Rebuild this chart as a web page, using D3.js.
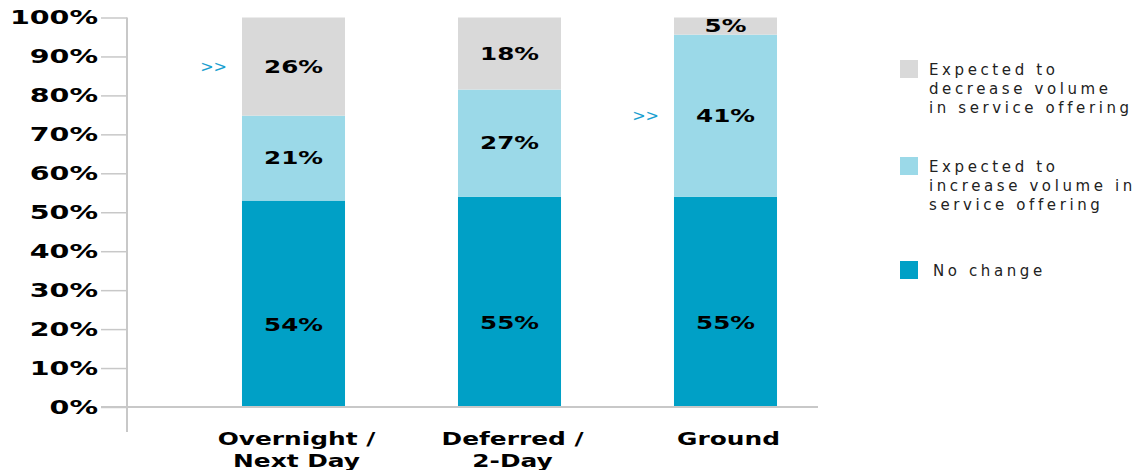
<!DOCTYPE html>
<html>
<head>
<meta charset="utf-8">
<script src="https://cdn.jsdelivr.net/npm/d3@7"></script>
<style>
  html, body { margin: 0; padding: 0; background: #fff; }
  svg { display: block; }
</style>
</head>
<body>
<svg id="chart" width="1145" height="470"></svg>
<script>
// ---- data ----
const categories = [["Overnight /", "Next Day"], ["Deferred /", "2-Day"], ["Ground"]];
const noChange = [53, 54, 54];
const increase = [21.8, 27.5, 41.6];
const decrease = [25.2, 18.5, 4.4];
const noChangeLabels = ["54%", "55%", "55%"];
const increaseLabels = ["21%", "27%", "41%"];
const decreaseLabels = ["26%", "18%", "5%"];
const highlightPairs = [[0, "decrease"], [2, "increase"]];
const yTicks = [0, 10, 20, 30, 40, 50, 60, 70, 80, 90, 100];
const legendItems = [
  { key: "decrease", lines: ["Expected to", "decrease volume", "in service offering"] },
  { key: "increase", lines: ["Expected to", "increase volume in", "service offering"] },
  { key: "noChange", lines: ["No change"] }
];

const colors = { noChange: "#00a0c6", increase: "#9bd9e8", decrease: "#d9d9d9" };
const keys = ["noChange", "increase", "decrease"];
const labelsByKey = { noChange: noChangeLabels, increase: increaseLabels, decrease: decreaseLabels };

const rows = categories.map((c, i) => ({
  idx: i, noChange: noChange[i], increase: increase[i], decrease: decrease[i]
}));

const svg = d3.select("#chart");
const boldFont = "'DejaVu Sans', sans-serif";

const x = d3.scaleBand()
  .domain(d3.range(categories.length))
  .range([185.5, 833.5])
  .paddingInner(0.523)
  .paddingOuter(0.2615);
const y = d3.scaleLinear().domain([0, 100]).range([407, 17.5]);

// axis
const axisX = 127;
const axis = d3.axisLeft(y).tickValues(yTicks).tickSize(26).tickFormat(d => d + "%");
const gAxis = svg.append("g").attr("transform", `translate(${axisX},0)`).call(axis);
gAxis.select(".domain").remove();
gAxis.selectAll(".tick line").attr("stroke", "#c8c8c8").attr("stroke-width", 1.5);
gAxis.selectAll(".tick text")
  .attr("x", 0)
  .attr("transform", "translate(-29,0) scale(1.5,1)")
  .attr("fill", "#000")
  .style("font-family", boldFont)
  .style("font-weight", "bold")
  .style("font-size", "19px");

svg.append("line")
  .attr("x1", axisX).attr("x2", axisX)
  .attr("y1", y(100)).attr("y2", 432)
  .attr("stroke", "#c8c8c8").attr("stroke-width", 2);

// stacked bars
const stack = d3.stack().keys(keys)(rows);
const layers = svg.append("g").selectAll("g").data(stack).join("g")
  .attr("fill", d => colors[d.key]);
layers.selectAll("rect").data(d => d).join("rect")
  .attr("x", (d, i) => x(i))
  .attr("width", x.bandwidth())
  .attr("y", d => y(d[1]))
  .attr("height", d => y(d[0]) - y(d[1]));

// baseline
svg.append("line")
  .attr("x1", 101).attr("x2", 818)
  .attr("y1", y(0)).attr("y2", y(0))
  .attr("stroke", "#c8c8c8").attr("stroke-width", 2);

// value labels
stack.forEach(layer => {
  layer.forEach((d, i) => {
    const mid = layer.key === "noChange" ? d[0] + (d[1] - d[0]) * 0.4 : (d[0] + d[1]) / 2;
    svg.append("text")
      .attr("transform", `translate(${x(i) + x.bandwidth() / 2},${y(mid)}) scale(1.45,1)`)
      .attr("text-anchor", "middle")
      .attr("dy", "0.36em")
      .style("font-family", boldFont)
      .style("font-weight", "bold")
      .style("font-size", "17px")
      .attr("fill", "#000")
      .text(labelsByKey[layer.key][i]);
  });
});

// highlight arrows
highlightPairs.forEach(([i, key]) => {
  const layer = stack.find(s => s.key === key);
  const d = layer[i];
  svg.append("text")
    .attr("x", x(i) - 15)
    .attr("y", y((d[0] + d[1]) / 2))
    .attr("dy", "0.36em")
    .attr("text-anchor", "end")
    .style("font-family", "'DejaVu Sans', sans-serif")
    .style("font-size", "16px")
    .attr("fill", "#1a9fd0")
    .text(">>");
});

// category labels
categories.forEach((lines, i) => {
  lines.forEach((ln, j) => {
    svg.append("text")
      .attr("transform", `translate(${x(i) + x.bandwidth() / 2 + 3},${445 + j * 22}) scale(1.38,1)`)
      .attr("text-anchor", "middle")
      .style("font-family", boldFont)
      .style("font-weight", "bold")
      .style("font-size", "18px")
      .attr("fill", "#000")
      .text(ln);
  });
});

// legend
const legendTop = [60, 157, 261];
legendItems.forEach((it, k) => {
  const g = svg.append("g").attr("transform", `translate(900,${legendTop[k]})`);
  g.append("rect").attr("width", 18).attr("height", 18).attr("fill", colors[it.key]);
  it.lines.forEach((ln, j) => {
    g.append("text")
      .attr("x", it.lines.length === 1 ? 33 : 29)
      .attr("y", 15 + j * 19)
      .style("font-family", "'DejaVu Sans', sans-serif")
      .style("font-size", "15px")
      .style("letter-spacing", "3.6px")
      .attr("fill", "#222")
      .text(ln);
  });
});
</script>
</body>
</html>
